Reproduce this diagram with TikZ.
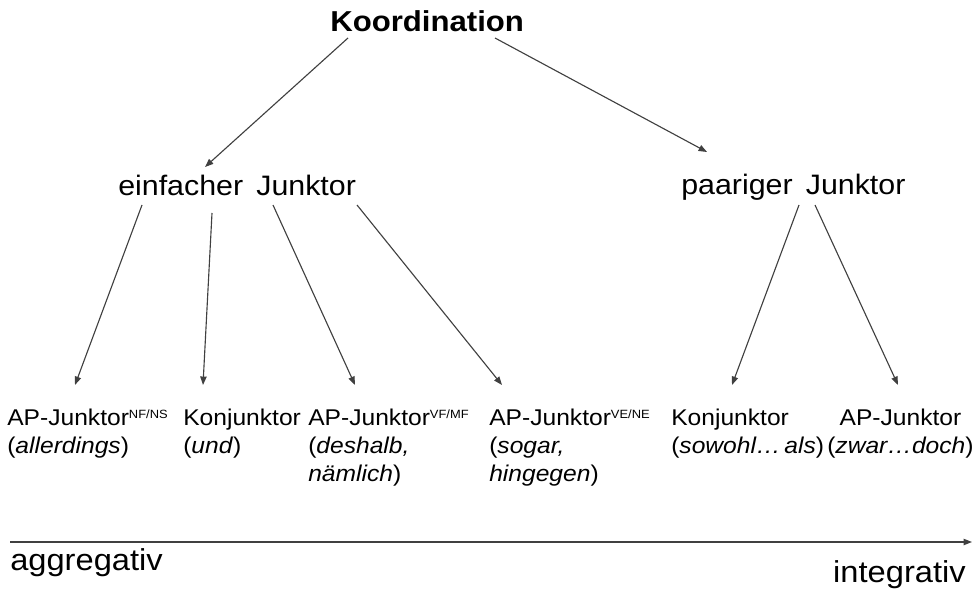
\documentclass[tikz,border=0pt]{standalone}
\usepackage{fontspec}
\setmainfont{Liberation Sans}[FakeStretch=1.08]
\usetikzlibrary{arrows.meta}

\newcommand{\hoch}[1]{\raisebox{4.8pt}{\fontsize{8.5}{9}\selectfont #1}}
\newcommand{\zeilen}[2][l]{\begin{tabular}[t]{@{}#1@{}}#2\end{tabular}}

\begin{document}
\begin{tikzpicture}[x=0.025cm,y=-0.025cm,
    pfeil/.style={draw=black!75,line width=0.8pt,-{Triangle[length=6pt,width=4.5pt]}},
    blatt/.style={anchor=base west,inner sep=0pt,font=\fontsize{16.2}{20}\selectfont},
    ebene/.style={anchor=base west,inner sep=0pt,font=\fontsize{20}{22}\selectfont},
    skala/.style={inner sep=0pt,font=\fontsize{21.5}{24}\selectfont}]
    \useasboundingbox (0,0) rectangle (977,589);

    % Wurzel und Zwischenebene
    \node[anchor=base west,inner sep=0pt,font=\fontsize{20.5}{22}\selectfont\bfseries] (koord) at (330,32) {Koordination};
    \node[ebene] (einf) at (118,196) {einfacher\, Junktor};
    \node[ebene] (paar) at (681,195) {paariger\, Junktor};

    % Blaetter
    \node[blatt] (apnf) at (7,425) {\zeilen{AP-Junktor\hoch{NF/NS}\\(\textit{allerdings})}};
    \node[blatt] (konj) at (183,425) {\zeilen{Konjunktor\\(\textit{und})}};
    \node[blatt] (apvf) at (308,425) {\zeilen{AP-Junktor\hoch{VF/MF}\\(\textit{deshalb,}\\\textit{nämlich})}};
    \node[blatt] (apve) at (489,425) {\zeilen{AP-Junktor\hoch{VE/NE}\\(\textit{sogar,}\\\textit{hingegen})}};
    \node[blatt] (konjp) at (671,425) {\zeilen{Konjunktor\\(\textit{sowohl…\,als})}};
    \node[blatt] (appaar) at (827,425) {\zeilen[c]{AP-Junktor\\(\textit{zwar…doch})}};

    \draw[pfeil] ([shift={(18,6)}]koord.base west) -- ([shift={(87,-29)}]einf.base west);
    \draw[pfeil] ([shift={(165,6)}]koord.base west) -- ([shift={(26,-43)}]paar.base west);

    \draw[pfeil] ([shift={(24,9)}]einf.base west) -- ([shift={(68,-40)}]apnf.base west);
    \draw[pfeil] ([shift={(94,17)}]einf.base west) -- ([shift={(20,-40)}]konj.base west);
    \draw[pfeil] ([shift={(155,9)}]einf.base west) -- ([shift={(47,-40)}]apvf.base west);
    \draw[pfeil] ([shift={(239,9)}]einf.base west) -- ([shift={(13,-40)}]apve.base west);

    \draw[pfeil] ([shift={(118,10)}]paar.base west) -- ([shift={(61,-40)}]konjp.base west);
    \draw[pfeil] ([shift={(134,10)}]paar.base west) -- ([shift={(71,-40)}]appaar.base west);

    % Skala
    \node[skala,anchor=base west] (aggr) at (10,570) {aggregativ};
    \node[skala,anchor=base east] (integ) at (966,582) {integrativ};
    \coordinate (links) at (10,542);
    \coordinate (rechts) at (972,542);
    \draw[pfeil,line width=1pt] (links) -- (rechts);
\end{tikzpicture}
\end{document}
